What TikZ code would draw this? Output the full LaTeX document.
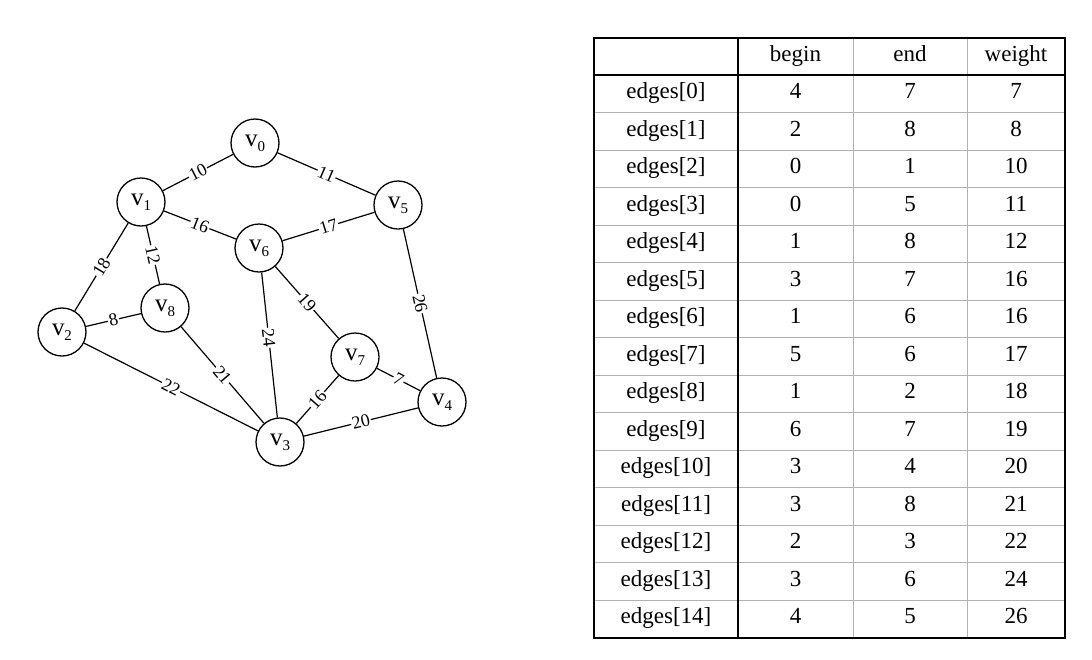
\documentclass[tikz,border=0pt]{standalone}
\usepackage{fontspec}
\setmainfont{Liberation Serif}
\newcommand\vlab[1]{v\raisebox{-5pt}{\fontsize{15}{15}\selectfont #1}}
\begin{document}
\begin{tikzpicture}[x=1pt,y=-1pt,
  vtx/.style={circle, draw, line width=1.3pt, minimum size=48pt, inner sep=0pt, fill=white,
              font=\fontsize{25}{25}\selectfont},
  edge/.style={line width=1.2pt},
  wlab/.style={sloped, fill=white, inner sep=1pt, font=\fontsize{18}{18}\selectfont},
  cell/.style={font=\fontsize{23}{23}\selectfont, inner sep=0pt, text height=15pt, text depth=5pt},
  thick rule/.style={line width=1.8pt},
  thin rule/.style={line width=0.6pt, gray!60}]
\fill[white] (0,0) rectangle (1092,659);
\useasboundingbox (0,0) rectangle (1092,659);

% vertices
\node[vtx] (v0) at (255,143) {\vlab{0}};
\node[vtx] (v1) at (141,202) {\vlab{1}};
\node[vtx] (v5) at (398,205) {\vlab{5}};
\node[vtx] (v6) at (259,248) {\vlab{6}};
\node[vtx] (v8) at (165,308) {\vlab{8}};
\node[vtx] (v2) at (62,332)  {\vlab{2}};
\node[vtx] (v7) at (355,357) {\vlab{7}};
\node[vtx] (v4) at (442,402) {\vlab{4}};
\node[vtx] (v3) at (280,442) {\vlab{3}};

% edges
\draw[edge] (v1) -- node[wlab, midway] {10} (v0);
\draw[edge] (v0) -- node[wlab, midway] {11} (v5);
\draw[edge] (v1) -- node[wlab, midway] {16} (v6);
\draw[edge] (v6) -- node[wlab, midway] {17} (v5);
\draw[edge] (v1) -- node[wlab, midway] {18} (v2);
\draw[edge] (v1) -- node[wlab, midway] {12} (v8);
\draw[edge] (v2) -- node[wlab, midway] {8} (v8);
\draw[edge] (v2) -- node[wlab, midway] {22} (v3);
\draw[edge] (v8) -- node[wlab, midway] {21} (v3);
\draw[edge] (v6) -- node[wlab, pos=0.45] {24} (v3);
\draw[edge] (v6) -- node[wlab, midway] {19} (v7);
\draw[edge] (v7) -- node[wlab, midway] {16} (v3);
\draw[edge] (v7) -- node[wlab, midway] {7} (v4);
\draw[edge] (v3) -- node[wlab, midway] {20} (v4);
\draw[edge] (v5) -- node[wlab, midway] {26} (v4);

% table grid
\foreach \k in {1,...,14} \draw[thin rule] (594,{75+37.5*\k}) -- (1065,{75+37.5*\k});
\draw[thin rule] (853,38) -- (853,638);
\draw[thin rule] (967,38) -- (967,638);
\draw[thick rule] (594,38) rectangle (1065,638);
\draw[thick rule] (738,38) -- (738,638);
\draw[thick rule] (594,75) -- (1065,75);

% header
\node[cell] (hb) at (795.5,56.5) {begin};
\node[cell] (he) at (910,56.5) {end};
\node[cell] (hw) at (1016,56.5) {weight};

% rows
\foreach \i/\b/\e/\w in {0/4/7/7, 1/2/8/8, 2/0/1/10, 3/0/5/11, 4/1/8/12, 5/3/7/16, 6/1/6/16,
  7/5/6/17, 8/1/2/18, 9/6/7/19, 10/3/4/20, 11/3/8/21, 12/2/3/22, 13/3/6/24, 14/4/5/26}{
  \node[cell] (n\i) at (666,{75+37.5*(\i+0.5)}) {edges[\i]};
  \node[cell] (b\i) at (795.5,{75+37.5*(\i+0.5)}) {\b};
  \node[cell] (e\i) at (910,{75+37.5*(\i+0.5)}) {\e};
  \node[cell] (w\i) at (1016,{75+37.5*(\i+0.5)}) {\w};
}
\end{tikzpicture}
\end{document}
